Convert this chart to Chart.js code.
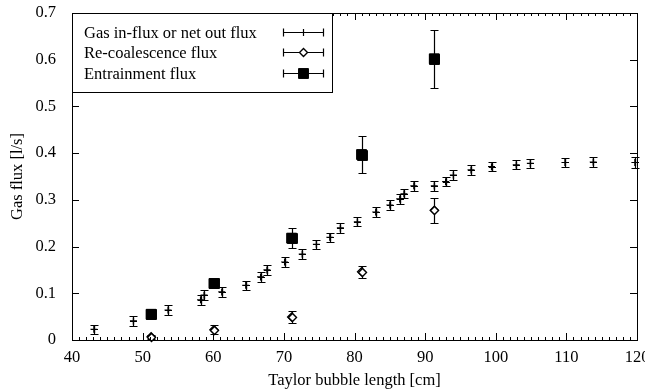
<!DOCTYPE html>
<html>
<head>
<meta charset="utf-8">
<script src="https://cdn.jsdelivr.net/npm/chart.js@4/dist/chart.umd.min.js"></script>
<style>
  html, body { margin: 0; padding: 0; background: #fff; }
  #wrap { width: 645px; height: 392px; }
</style>
</head>
<body>
<div id="wrap"><canvas id="fluxChart" width="645" height="392"></canvas></div>
<script>
// Gas in-flux / net out flux measurements
const influxLength = [43.1, 48.7, 53.6, 58.2, 58.7, 61.2, 64.6, 66.7, 67.6, 70.1,
                      72.6, 74.6, 76.5, 78.0, 80.4, 83.0, 85.0, 86.4, 87.0, 88.4,
                      91.3, 92.9, 94.0, 96.5, 99.4, 102.9, 104.9, 109.8, 113.8, 119.7];
const influxFlux = [0.023, 0.041, 0.064, 0.086, 0.096, 0.103, 0.117, 0.135, 0.150, 0.167,
                    0.184, 0.205, 0.220, 0.240, 0.253, 0.274, 0.289, 0.302, 0.313, 0.330,
                    0.330, 0.339, 0.353, 0.364, 0.371, 0.375, 0.378, 0.380, 0.381, 0.380];
const influxErr = [0.010, 0.010, 0.010, 0.011, 0.011, 0.011, 0.010, 0.010, 0.010, 0.010,
                   0.010, 0.010, 0.010, 0.010, 0.010, 0.010, 0.010, 0.010, 0.010, 0.010,
                   0.011, 0.010, 0.010, 0.010, 0.010, 0.010, 0.010, 0.010, 0.010, 0.011];

// Re-coalescence flux
const recoLength = [51.2, 60.1, 71.1, 81.0, 91.3];
const recoFlux = [0.007, 0.022, 0.049, 0.146, 0.278];
const recoErr = [0.004, 0.010, 0.013, 0.013, 0.027];

// Entrainment flux
const entrLength = [51.2, 60.1, 71.1, 81.0, 91.3];
const entrFlux = [0.055, 0.121, 0.218, 0.397, 0.602];
const entrErr = [0.005, 0.005, 0.021, 0.040, 0.062];

const xTicks = [40, 50, 60, 70, 80, 90, 100, 110, 120];
const yTicks = [0, 0.1, 0.2, 0.3, 0.4, 0.5, 0.6, 0.7];

const serif = 'Liberation Serif, Times New Roman, serif';
const fontSize = 16.5;

function toPoints(xs, ys) {
  return xs.map((x, i) => ({ x: x, y: ys[i] }));
}

function crisp(v) {
  return Math.round(v) + 0.5;
}

function marker(ctx, ds, x, y) {
  ctx.fillStyle = ds.pointBackgroundColor;
  ctx.strokeStyle = '#000';
  ctx.lineWidth = ds.borderWidth;
  Chart.helpers.drawPoint(ctx, {
    pointStyle: ds.pointStyle, radius: ds.pointRadius, rotation: 0,
    borderWidth: ds.borderWidth
  }, x, y);
}

// vertical error bars with caps, drawn from each dataset's err array
const errorBars = {
  id: 'errorBars',
  afterDatasetsDraw(chart) {
    const ctx = chart.ctx;
    const yScale = chart.scales.y;
    ctx.save();
    chart.data.datasets.forEach((ds, di) => {
      const meta = chart.getDatasetMeta(di);
      ctx.strokeStyle = '#000';
      ctx.lineWidth = 1.2;
      meta.data.forEach((pt, i) => {
        const v = ds.data[i].y;
        const e = ds.err[i];
        const top = crisp(yScale.getPixelForValue(v + e));
        const bot = crisp(yScale.getPixelForValue(v - e));
        const x = crisp(pt.x);
        ctx.beginPath();
        ctx.moveTo(x, top); ctx.lineTo(x, bot);
        ctx.moveTo(x - 4, top); ctx.lineTo(x + 4, top);
        ctx.moveTo(x - 4, bot); ctx.lineTo(x + 4, bot);
        ctx.stroke();
      });
      // markers go over the bars
      meta.data.forEach(pt => marker(ctx, ds, crisp(pt.x), crisp(pt.y)));
    });
    ctx.restore();
  }
};

// frame, inward ticks and the key box
const frame = {
  id: 'frame',
  afterDraw(chart) {
    const ctx = chart.ctx;
    const a = chart.chartArea;
    const xs = chart.scales.x, ys = chart.scales.y;
    ctx.save();
    ctx.strokeStyle = '#000';
    ctx.lineWidth = 1;
    ctx.beginPath();
    xTicks.forEach(t => {
      const px = crisp(xs.getPixelForValue(t));
      ctx.moveTo(px, a.bottom); ctx.lineTo(px, a.bottom - 7);
      ctx.moveTo(px, a.top); ctx.lineTo(px, a.top + 7);
    });
    for (let t = 41; t < 120; t++) {
      if (t % 10 === 0) continue;
      const px = crisp(xs.getPixelForValue(t));
      ctx.moveTo(px, a.bottom); ctx.lineTo(px, a.bottom - 3);
      ctx.moveTo(px, a.top); ctx.lineTo(px, a.top + 3);
    }
    yTicks.forEach(t => {
      const py = crisp(ys.getPixelForValue(t));
      ctx.moveTo(a.left, py); ctx.lineTo(a.left + 7, py);
      ctx.moveTo(a.right, py); ctx.lineTo(a.right - 7, py);
    });
    ctx.stroke();

    // key
    const kx = a.left, ky = a.top, kw = 260, kh = 79;
    ctx.fillStyle = '#fff';
    ctx.fillRect(kx, ky, kw, kh);
    ctx.strokeRect(crisp(kx), crisp(ky), kw, kh);
    ctx.font = fontSize + 'px ' + serif;
    ctx.textBaseline = 'middle';
    ctx.textAlign = 'left';
    chart.data.datasets.forEach((ds, i) => {
      const ry = crisp(ky + 19 + i * 20.3);
      ctx.fillStyle = '#000';
      ctx.fillText(ds.label, kx + 12, ry + 1);
      const s0 = crisp(kx + 211), s1 = crisp(kx + 251), sm = crisp(kx + 231);
      ctx.strokeStyle = '#000';
      ctx.lineWidth = 1.2;
      ctx.beginPath();
      ctx.moveTo(s0, ry); ctx.lineTo(s1, ry);
      ctx.moveTo(s0, ry - 4); ctx.lineTo(s0, ry + 4);
      ctx.moveTo(s1, ry - 4); ctx.lineTo(s1, ry + 4);
      ctx.stroke();
      marker(ctx, ds, sm, ry);
    });
    ctx.strokeStyle = '#000';
    ctx.lineWidth = 1;
    ctx.strokeRect(crisp(a.left), crisp(a.top),
                   Math.round(a.right - a.left), Math.round(a.bottom - a.top));
    ctx.restore();
  }
};

const ctx = document.getElementById('fluxChart').getContext('2d');
const fluxChart = new Chart(ctx, {
  type: 'scatter',
  data: {
    datasets: [
      {
        label: 'Gas in-flux or net out flux',
        data: toPoints(influxLength, influxFlux),
        err: influxErr,
        pointStyle: 'cross',
        pointRadius: 3.5,
        borderColor: '#000',
        pointBackgroundColor: '#000',
        borderWidth: 1.2
      },
      {
        label: 'Re-coalescence flux',
        data: toPoints(recoLength, recoFlux),
        err: recoErr,
        pointStyle: 'rectRot',
        pointRadius: 4,
        borderColor: '#000',
        pointBackgroundColor: '#fff',
        borderWidth: 1.4
      },
      {
        label: 'Entrainment flux',
        data: toPoints(entrLength, entrFlux),
        err: entrErr,
        pointStyle: 'rect',
        pointRadius: 7,
        borderColor: '#000',
        pointBackgroundColor: '#000',
        borderWidth: 1
      }
    ]
  },
  options: {
    responsive: false,
    animation: false,
    layout: { padding: { top: 13, right: 8, left: 0, bottom: 0 } },
    plugins: { legend: { display: false }, tooltip: { enabled: false } },
    elements: { point: { hoverRadius: 0 } },
    scales: {
      x: {
        type: 'linear',
        min: 40, max: 120,
        grid: { display: false },
        border: { display: false },
        afterBuildTicks: s => { s.ticks = xTicks.map(v => ({ value: v })); },
        ticks: { color: '#000', font: { family: serif, size: fontSize }, padding: 0, maxRotation: 0 },
        title: {
          display: true, text: 'Taylor bubble length [cm]', color: '#000',
          font: { family: serif, size: fontSize }, padding: { top: 0, bottom: 1 }
        },
        afterFit: s => { s.height = 52; s.paddingLeft = 0; s.paddingRight = 0; }
      },
      y: {
        type: 'linear',
        min: 0, max: 0.7,
        grid: { display: false },
        border: { display: false },
        afterBuildTicks: s => { s.ticks = yTicks.map(v => ({ value: v })); },
        ticks: { color: '#000', font: { family: serif, size: fontSize }, padding: 8 },
        title: {
          display: true, text: 'Gas flux [l/s]', color: '#000',
          font: { family: serif, size: fontSize }, padding: { top: 8, bottom: 0 }
        },
        afterFit: s => { s.width = 72; s.paddingTop = 0; s.paddingBottom = 0; }
      }
    }
  },
  plugins: [errorBars, frame]
});
</script>
</body>
</html>
